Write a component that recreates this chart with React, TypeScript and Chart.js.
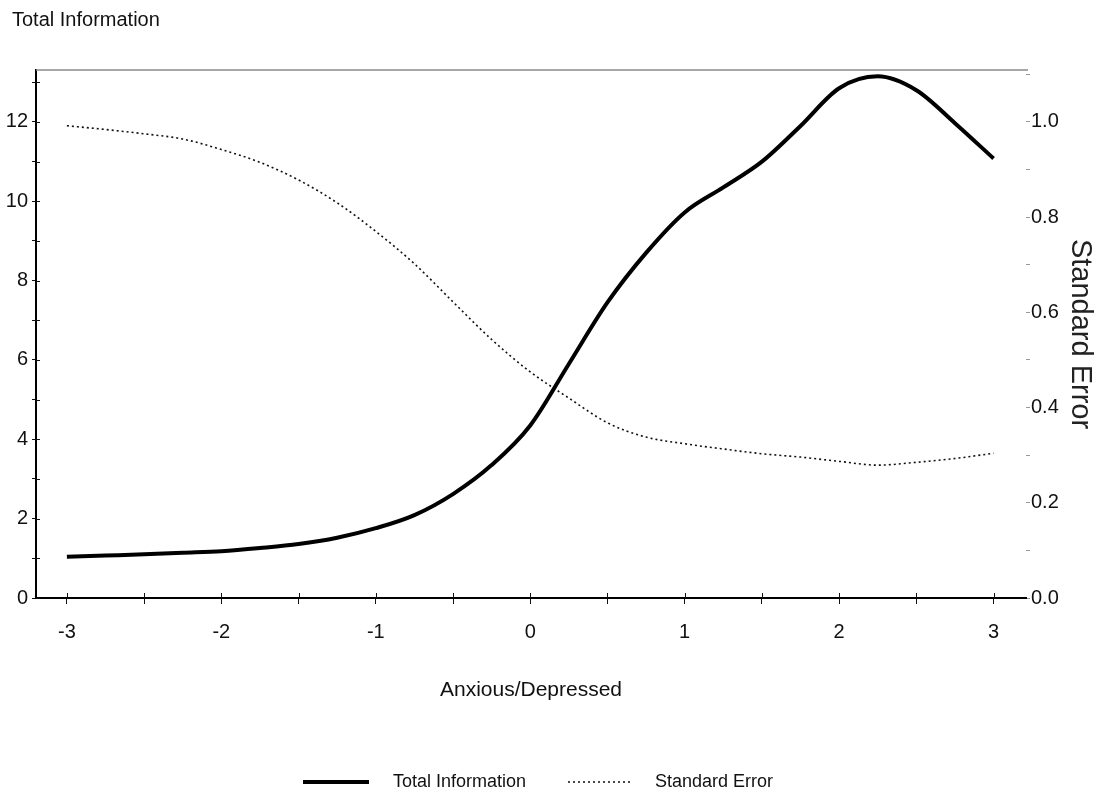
import React, { useEffect, useRef } from "react";
import { Chart, registerables } from "chart.js";

Chart.register(...registerables);

// ---- data ----
const thetaValues = [
  -3, -2.75, -2.5, -2.25, -2, -1.75, -1.5, -1.25, -1, -0.75, -0.5, -0.25, 0,
  0.25, 0.5, 0.75, 1, 1.25, 1.5, 1.75, 2, 2.25, 2.5, 2.75, 3,
];
const totalInformation = [
  1.04, 1.07, 1.1, 1.14, 1.18, 1.26, 1.36, 1.52, 1.76, 2.09, 2.62, 3.35, 4.35,
  5.9, 7.45, 8.7, 9.72, 10.35, 11.0, 11.9, 12.85, 13.15, 12.8, 11.97, 11.08,
];
const standardError = [
  0.992, 0.984, 0.975, 0.964, 0.942, 0.915, 0.878, 0.83, 0.77, 0.702, 0.622,
  0.543, 0.475, 0.42, 0.368, 0.338, 0.324, 0.313, 0.303, 0.296, 0.287, 0.279,
  0.285, 0.293, 0.304,
];
const seriesNames = ["Total Information", "Standard Error"];
const leftAxisTitle = "Total Information";
const rightAxisTitle = "Standard Error";
const xAxisTitle = "Anxious/Depressed";

const FONT = "'Liberation Sans', Arial, sans-serif";

const innerTicks = {
  id: "innerTicks",
  afterDraw(chart: any) {
    const { ctx, chartArea } = chart;
    const x = chart.scales.x;
    const y = chart.scales.y;
    ctx.save();
    ctx.strokeStyle = "#111";
    ctx.lineWidth = 1;
    x.ticks.forEach((t: any) => {
      const px = Math.round(x.getPixelForValue(t.value)) + 0.5;
      ctx.beginPath();
      ctx.moveTo(px, chartArea.bottom);
      ctx.lineTo(px, chartArea.bottom - 5);
      ctx.stroke();
    });
    y.ticks.forEach((t: any) => {
      const py = Math.round(y.getPixelForValue(t.value)) + 0.5;
      ctx.beginPath();
      ctx.moveTo(chartArea.left, py);
      ctx.lineTo(chartArea.left + 4, py);
      ctx.stroke();
    });
    // top frame line
    ctx.strokeStyle = "#8a8a8a";
    ctx.lineWidth = 1.5;
    ctx.beginPath();
    ctx.moveTo(chartArea.left, chartArea.top);
    ctx.lineTo(chartArea.right + 2, chartArea.top);
    ctx.stroke();
    // left axis title, horizontal at the top-left
    ctx.font = `20px ${FONT}`;
    ctx.fillStyle = "#111";
    ctx.textAlign = "left";
    ctx.textBaseline = "middle";
    ctx.fillText(leftAxisTitle, 12, 20);
    ctx.restore();
  },
};

const lineLegend = {
  id: "lineLegend",
  afterDraw(chart: any) {
    const { ctx } = chart;
    const yMid = 782;
    const items = [
      { x0: 303, x1: 369, tx: 393 },
      { x0: 568, x1: 633, tx: 655 },
    ];
    ctx.save();
    ctx.font = `18px ${FONT}`;
    ctx.textBaseline = "middle";
    ctx.textAlign = "left";
    chart.data.datasets.forEach((ds: any, i: number) => {
      const it = items[i];
      ctx.strokeStyle = ds.borderColor;
      ctx.lineWidth = ds.borderWidth;
      ctx.setLineDash(ds.borderDash || []);
      ctx.beginPath();
      ctx.moveTo(it.x0, yMid);
      ctx.lineTo(it.x1, yMid);
      ctx.stroke();
      ctx.setLineDash([]);
      ctx.fillStyle = "#111";
      ctx.fillText(ds.label, it.tx, yMid);
    });
    ctx.restore();
  },
};

export default function App() {
  const canvasRef = useRef<HTMLCanvasElement | null>(null);

  useEffect(() => {
    const canvas = canvasRef.current;
    if (!canvas) return;
    const chart = new Chart(canvas, {
      type: "line",
      data: {
        datasets: [
          {
            label: seriesNames[0],
            data: thetaValues.map((t, i) => ({ x: t, y: totalInformation[i] })),
            borderColor: "#000",
            borderWidth: 4,
            pointRadius: 0,
            cubicInterpolationMode: "monotone",
            yAxisID: "y",
          },
          {
            label: seriesNames[1],
            data: thetaValues.map((t, i) => ({ x: t, y: standardError[i] })),
            borderColor: "#111",
            borderWidth: 1.6,
            borderDash: [2, 3],
            pointRadius: 0,
            cubicInterpolationMode: "monotone",
            yAxisID: "y2",
          },
        ],
      },
      options: {
        responsive: false,
        animation: false,
        layout: { padding: { left: 0, right: 0, top: 70, bottom: 70 } },
        plugins: {
          legend: { display: false },
          tooltip: { enabled: false },
          title: { display: false },
        },
        scales: {
          x: {
            type: "linear",
            min: -3.2,
            max: 3.21,
            afterFit: (s: any) => {
              s.height = 133;
            },
            ticks: {
              stepSize: 0.5,
              includeBounds: false,
              autoSkip: false,
              maxRotation: 0,
              color: "#111",
              padding: 16,
              font: { family: FONT, size: 20 },
              callback: (v: any) => (Math.abs(v - Math.round(v)) < 1e-9 ? String(Math.round(v)) : ""),
            },
            grid: { drawOnChartArea: false, tickLength: 6, color: "#111", lineWidth: 1 },
            border: { display: true, color: "#000", width: 2 },
            title: {
              display: true,
              text: xAxisTitle,
              color: "#111",
              font: { family: FONT, size: 21 },
              padding: { top: 0, bottom: 28.4 },
            },
          },
          y: {
            type: "linear",
            position: "left",
            min: 0,
            max: 13.31,
            afterFit: (s: any) => {
              s.width = 36;
            },
            ticks: {
              stepSize: 1,
              includeBounds: false,
              autoSkip: false,
              color: "#111",
              padding: 4,
              font: { family: FONT, size: 20 },
              callback: (v: any) => (Math.round(v) % 2 === 0 ? String(Math.round(v)) : ""),
            },
            grid: { drawOnChartArea: false, tickLength: 4, color: "#111", lineWidth: 1 },
            border: { display: true, color: "#000", width: 2 },
          },
          y2: {
            type: "linear",
            position: "right",
            min: 0,
            max: 1.109,
            afterFit: (s: any) => {
              s.width = 73;
            },
            ticks: {
              stepSize: 0.1,
              includeBounds: false,
              autoSkip: false,
              color: "#111",
              padding: 1,
              font: { family: FONT, size: 20 },
              callback: (v: any) => (Math.round(v * 10) % 2 === 0 ? Number(v).toFixed(1) : ""),
            },
            grid: { drawOnChartArea: false, tickLength: 4, color: "#999", lineWidth: 1 },
            border: { display: false },
            title: {
              display: true,
              text: rightAxisTitle,
              color: "#222",
              font: { family: FONT, size: 29 },
              padding: { top: 2, bottom: 0 },
            },
          },
        },
      },
      plugins: [innerTicks, lineLegend],
    } as any);
    return () => chart.destroy();
  }, []);

  return (
    <div style={{ position: "fixed", left: 0, top: 0, width: 1099, height: 801, background: "#fff" }}>
      <canvas ref={canvasRef} width={1099} height={801} style={{ display: "block" }} />
    </div>
  );
}
